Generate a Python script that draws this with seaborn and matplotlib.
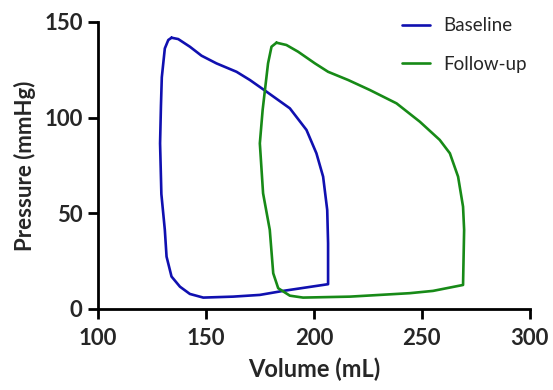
import numpy as np
import pandas as pd
import seaborn as sns
import matplotlib.pyplot as plt

# Pressure-volume loops
baseline_volume = [134.1, 132.6, 131.0, 129.6, 129.2, 128.8, 129.4, 131.0, 131.8, 134.1,
                   138.0, 142.6, 148.8, 162.6, 175.0, 185.8, 206.6, 206.6, 206.2, 204.3,
                   201.2, 196.6, 188.9, 178.1, 170.4, 164.2, 154.9, 148.0, 142.6, 137.2,
                   134.1]
baseline_pressure = [141.7, 140.5, 136.1, 121.0, 106.0, 86.5, 60.0, 41.3, 27.3, 16.9,
                     11.6, 7.8, 5.9, 6.4, 7.3, 9.4, 12.9, 34.3, 51.7, 69.1,
                     81.3, 93.5, 104.8, 113.5, 119.6, 123.9, 128.3, 132.3, 137.0, 141.0,
                     141.7]

followup_volume = [182.7, 180.4, 178.8, 176.3, 175.0, 176.5, 179.6, 181.2, 183.5, 188.9,
                   195.0, 216.7, 244.4, 255.2, 269.1, 269.6, 269.1, 266.8, 263.0, 258.3,
                   249.1, 238.3, 225.9, 215.9, 206.6, 200.5, 192.7, 187.3, 182.7]
followup_pressure = [139.1, 137.0, 128.3, 104.0, 86.5, 60.4, 41.3, 18.6, 10.8, 6.9,
                     5.9, 6.4, 8.2, 9.4, 12.5, 41.3, 53.4, 69.1, 81.3, 88.3,
                     97.8, 107.4, 114.4, 119.6, 123.9, 128.3, 134.4, 137.9, 139.1]

x_ticks = [100, 150, 200, 250, 300]
y_ticks = [0, 50, 100, 150]

df = pd.concat([
    pd.DataFrame({"volume": baseline_volume, "pressure": baseline_pressure, "grupo": "Baseline"}),
    pd.DataFrame({"volume": followup_volume, "pressure": followup_pressure, "grupo": "Follow-up"}),
], ignore_index=True)

sns.set_style("ticks")
plt.rcParams["font.family"] = ["Lato", "DejaVu Sans"]

fig = plt.figure(figsize=(5.53, 3.90), dpi=100)
ax = fig.add_axes([0.177, 0.208, 0.781, 0.736])

sns.lineplot(data=df, x="volume", y="pressure", hue="grupo", units="grupo",
             estimator=None, sort=False, ax=ax, linewidth=1.9,
             palette={"Baseline": "#1010b0", "Follow-up": "#178a17"})

ax.set_xlim(100, 300)
ax.set_ylim(0, 150)
ax.set_xticks(x_ticks)
ax.set_yticks(y_ticks)
ax.set_xlabel("Volume (mL)", fontsize=17, fontweight="bold", labelpad=6)
ax.set_ylabel("Pressure (mmHg)", fontsize=16, fontweight="bold", labelpad=6)
ax.tick_params(axis="both", labelsize=16, width=2, length=7, color="black", direction="out")
ax.tick_params(axis="x", pad=7)
ax.tick_params(axis="y", pad=4)
for lab in ax.get_xticklabels() + ax.get_yticklabels():
    lab.set_fontweight("bold")

sns.despine(ax=ax)
for s in ["left", "bottom"]:
    ax.spines[s].set_linewidth(2)
    ax.spines[s].set_color("black")

leg = ax.legend(loc="upper left", bbox_to_anchor=(0.665, 1.075), frameon=False,
                fontsize=13.5, handlelength=1.5, labelspacing=1.15, handletextpad=0.7)
for line in leg.get_lines():
    line.set_linewidth(1.9)

fig.savefig("out.png", dpi=100)
